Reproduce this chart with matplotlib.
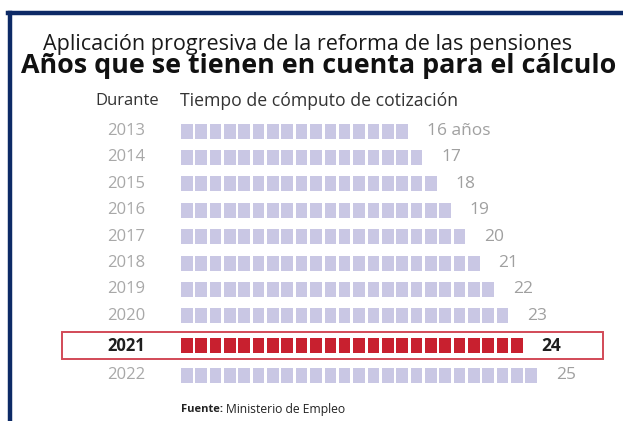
import numpy as np
import matplotlib
matplotlib.use("Agg")
import matplotlib.pyplot as plt
from matplotlib.patches import Rectangle
from matplotlib.lines import Line2D

plt.rcParams['font.family'] = ['Open Sans', 'DejaVu Sans']

# datos
years = ['2013', '2014', '2015', '2016', '2017', '2018', '2019', '2020', '2021', '2022']
computo = [16, 17, 18, 19, 20, 21, 22, 23, 24, 25]
highlight = '2021'

W, H = 623, 421
fig = plt.figure(figsize=(W / 100, H / 100), dpi=100)
fig.patch.set_facecolor('white')
ax = fig.add_axes([0, 0, 1, 1])
ax.set_xlim(0, W)
ax.set_ylim(H, 0)
ax.axis('off')

renderer = fig.canvas.get_renderer()


def fit(t, width):
    # ajusta el tamaño de letra a un ancho en pixeles
    w = t.get_window_extent(renderer).width
    t.set_fontsize(t.get_fontsize() * width / w)


def px(x, y):
    return x / W, 1 - y / H


# marco azul
fig.add_artist(Line2D([10 / W, 10 / W], [0, 1 - 13 / H], color='#0d2a66', lw=3.2))
fig.add_artist(Line2D([8.4 / W, 1], [1 - 13 / H, 1 - 13 / H], color='#0d2a66', lw=3.2))

t1 = fig.text(*px(308, 50), 'Aplicación progresiva de la reforma de las pensiones',
              ha='center', va='baseline', fontsize=14, color='#1a1a1a')
fit(t1, 530)
t2 = fig.text(*px(319, 73), 'Años que se tienen en cuenta para el cálculo',
              ha='center', va='baseline', fontsize=16, color='#111111', fontweight='bold')
fit(t2, 596)

d1 = fig.text(*px(95, 101), 'Durante', ha='left', va='center', fontsize=11, color='#333333')
fit(d1, 64)
d2 = fig.text(*px(180, 101), 'Tiempo de cómputo de cotización', ha='left', va='center',
              fontsize=11, color='#333333')
fit(d2, 278)

# cuadrados
x0, pitch, sq_w, sq_h = 181, 14.35, 11.6, 15
ys = 131 + 26.4 * np.arange(len(years))
ys[8:] += 3.5
ys[9:] += 3.0

for yr, n, yc in zip(years, computo, ys):
    hl = yr == highlight
    xs = x0 + np.arange(n) * pitch
    ax.bar(xs, sq_h, width=sq_w, bottom=yc - sq_h / 2, align='edge',
           color='#c8202f' if hl else '#c9c7e4', edgecolor='none')
    ax.text(145, yc, yr, ha='right', va='center', fontsize=12,
            color='#1f1f1f' if hl else '#a8a8a8',
            fontweight='bold' if hl else 'normal')
    lab = f'{n} años' if yr == years[0] else str(n)
    ax.text(xs[-1] + sq_w + 19, yc, lab, ha='left', va='center', fontsize=12.5,
            color='#1f1f1f' if hl else '#a0a0a0',
            fontweight='bold' if hl else 'normal')
    if hl:
        ax.add_patch(Rectangle((62, yc - 14), 541, 27.5, fill=False,
                               edgecolor='#d24a57', lw=1.4))

# fuente
f1 = fig.text(*px(181, 409), 'Fuente:', ha='left', va='center', fontsize=8,
              fontweight='bold', color='#222222')
bb = f1.get_window_extent(renderer)
f2 = fig.text(bb.x1 / W + 3 / W, 1 - 409 / H, 'Ministerio de Empleo', ha='left',
              va='center', fontsize=8, color='#222222')
fit(f2, 347 - bb.x1 - 3)

fig.savefig('out.png', dpi=100)
